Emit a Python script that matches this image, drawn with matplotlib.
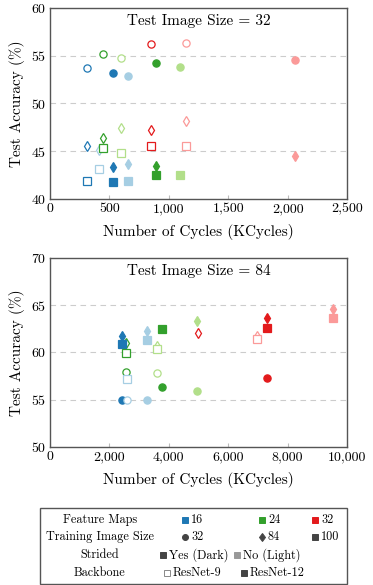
import matplotlib
matplotlib.use("Agg")
import matplotlib.pyplot as plt
from matplotlib.ticker import FuncFormatter
from matplotlib.patches import Rectangle

plt.rcParams["font.family"] = ["cmr10", "DejaVu Serif"]
plt.rcParams["axes.formatter.use_mathtext"] = True

# colours for feature maps: (dark, light)
colors = {16: ("#1f78b4", "#a6cee3"), 24: ("#33a02c", "#b2df8a"), 32: ("#e31a1c", "#fb9a99")}
shapes = {32: "o", 84: "d", 100: "s"}

# ---- test image size 32 ----
t32_fmaps   = [16, 16, 16, 24, 24, 24, 24, 32, 32, 32,
               16, 16, 24, 24, 32, 32, 16, 16, 24, 32,
               16, 16, 24, 24, 32, 32, 16, 16, 24, 24]
t32_train   = [32] * 10 + [84] * 10 + [100] * 10
t32_dark    = [1, 1, 0, 1, 0, 1, 0, 1, 0, 0,
               1, 0, 1, 0, 1, 0, 1, 0, 1, 0,
               1, 0, 1, 0, 1, 0, 1, 0, 1, 0]
t32_resnet9 = [1, 0, 0, 1, 1, 0, 0, 1, 1, 0,
               1, 1, 1, 1, 1, 1, 0, 0, 0, 0,
               1, 1, 1, 1, 1, 1, 0, 0, 0, 0]
t32_cycles  = [309, 528, 660, 444, 598, 893, 1096, 851, 1146, 2062,
               309, 416, 444, 598, 851, 1146, 528, 660, 893, 2062,
               309, 416, 444, 598, 851, 1146, 528, 660, 893, 1096]
t32_acc     = [53.7, 53.2, 52.9, 55.2, 54.8, 54.2, 53.8, 56.2, 56.3, 54.6,
               45.5, 45.1, 46.4, 47.4, 47.2, 48.2, 43.4, 43.7, 43.5, 44.5,
               41.9, 43.1, 45.3, 44.8, 45.5, 45.6, 41.8, 41.9, 42.5, 42.5]

# ---- test image size 84 ----
t84_fmaps   = [16, 16, 16, 24, 24, 24, 24, 32,
               16, 24, 16, 24, 24, 32, 32, 32, 32,
               16, 24, 16, 16, 24, 24, 32, 32, 32]
t84_train   = [32] * 8 + [84] * 9 + [100] * 9
t84_dark    = [1, 0, 0, 1, 0, 1, 0, 1,
               1, 1, 0, 0, 0, 1, 0, 1, 0,
               1, 1, 0, 0, 0, 1, 0, 1, 0]
t84_resnet9 = [0, 1, 0, 1, 1, 0, 0, 0,
               0, 1, 0, 1, 0, 1, 1, 0, 0,
               0, 1, 1, 0, 1, 0, 1, 0, 0]
t84_cycles  = [2427, 2584, 3258, 2573, 3607, 3787, 4966, 7303,
               2427, 2573, 3258, 3607, 4966, 4989, 6978, 7303, 9528,
               2427, 2573, 2596, 3258, 3607, 3787, 6978, 7303, 9528]
t84_acc     = [55.0, 55.0, 55.0, 57.9, 57.8, 56.3, 55.9, 57.3,
               61.7, 61.0, 62.3, 60.7, 63.3, 62.1, 61.7, 63.7, 64.6,
               60.9, 59.9, 57.2, 61.3, 60.4, 62.5, 61.4, 62.6, 63.7]

W, H = 373, 585
fig = plt.figure(figsize=(W / 100, H / 100), dpi=100)


def px_axes(x0, y0, x1, y1):
    return fig.add_axes([x0 / W, 1 - y1 / H, (x1 - x0) / W, (y1 - y0) / H])


def panel(ax, fm, tr, dk, r9, xs, ys, xmax, ylim, title):
    for f, t, d, r, x, y in zip(fm, tr, dk, r9, xs, ys):
        c = colors[f][0 if d else 1]
        m = shapes[t]
        ms = 5.6 if m == "d" else 5.2
        face = "white" if r else c
        ax.plot(x, y, marker=m, ms=ms, mfc=face, mec=c, mew=0.9, ls="none", zorder=3)
    ax.set_xlim(0, xmax)
    ax.set_ylim(*ylim)
    ax.set_yticks(range(ylim[0], ylim[1] + 1, 5))
    ax.yaxis.grid(True, ls=(0, (5, 4)), color="#cccccc", lw=0.8)
    ax.set_axisbelow(True)
    ax.xaxis.set_major_formatter(FuncFormatter(lambda v, p: f"{int(v):,}"))
    ax.tick_params(direction="in", length=3, color="#bbbbbb", labelsize=10, pad=3)
    ax.tick_params(axis="y", length=0)
    for s in ax.spines.values():
        s.set_color("#555555")
        s.set_linewidth(1.0)
    ax.set_xlabel("Number of Cycles (KCycles)", fontsize=11, labelpad=6)
    ax.set_ylabel("Test Accuracy (%)", fontsize=11, labelpad=4)
    ax.text(0.5, 0.93, title, transform=ax.transAxes, ha="center", va="center", fontsize=11)


ax1 = px_axes(50, 8, 347, 199)
panel(ax1, t32_fmaps, t32_train, t32_dark, t32_resnet9, t32_cycles, t32_acc, 2500, (40, 60),
      "Test Image Size = 32")
ax2 = px_axes(50, 258, 347, 447)
panel(ax2, t84_fmaps, t84_train, t84_dark, t84_resnet9, t84_cycles, t84_acc, 10000, (50, 70),
      "Test Image Size = 84")

# ---- legend box ----
lg = px_axes(40, 508, 347, 584)
lg.set_xlim(40, 347)
lg.set_ylim(584, 508)
lg.axis("off")
lg.add_patch(Rectangle((40, 508), 307, 76, fill=False, ec="#555555", lw=1.0, clip_on=False))

row_y = [520, 537, 555, 573]
row_names = ["Feature Maps", "Training Image Size", "Strided", "Backbone"]
for y, name in zip(row_y, row_names):
    lg.text(100, y, name, ha="center", va="center", fontsize=8.8)

legend_rows = [
    [(185, "s", colors[16][0], colors[16][0], "16"),
     (262, "s", colors[24][0], colors[24][0], "24"),
     (315, "s", colors[32][0], colors[32][0], "32")],
    [(185, "o", "#444444", "#444444", "32"),
     (262, "d", "#444444", "#444444", "84"),
     (315, "s", "#444444", "#444444", "100")],
    [(163, "s", "#444444", "#444444", "Yes (Dark)"),
     (237, "s", "#999999", "#999999", "No (Light)")],
    [(167, "s", "white", "#888888", "ResNet-9"),
     (244, "s", "#444444", "#444444", "ResNet-12")],
]
for y, items in zip(row_y, legend_rows):
    for x, m, fc, ec, lab in items:
        lg.plot(x, y, marker=m, ms=4.3, mfc=fc, mec=ec, mew=0.7, ls="none")
        lg.text(x + 6, y, lab, ha="left", va="center", fontsize=8.8)

fig.savefig("out.png", dpi=100)
